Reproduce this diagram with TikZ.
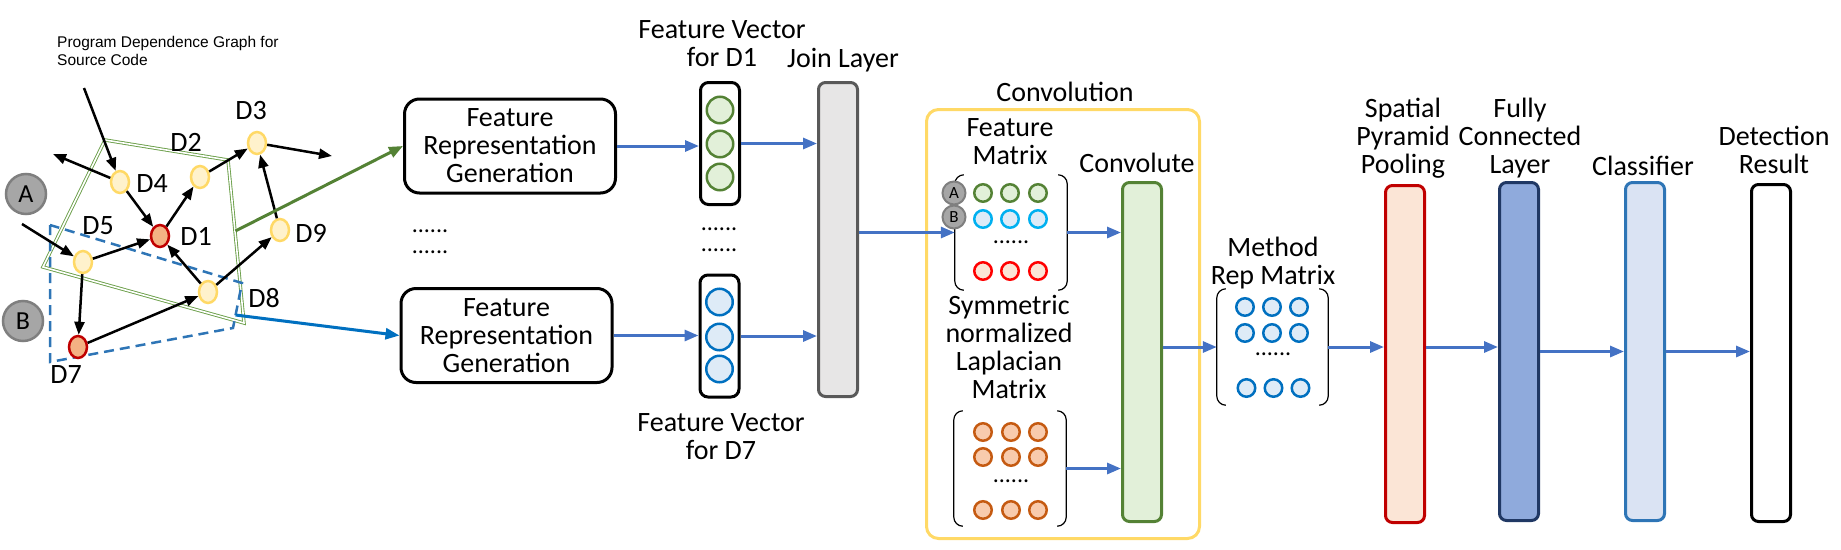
\documentclass[tikz,border=0pt]{standalone}
\usepackage{fontspec}
\setmainfont{Carlito}
\newfontfamily\pdgfont{Liberation Sans}
\usetikzlibrary{shapes.geometric,arrows.meta}
\definecolor{goldB}{HTML}{FFD966}
\definecolor{goldF}{HTML}{FFF2CC}
\definecolor{redB}{HTML}{C00000}
\definecolor{redF}{HTML}{F4B183}
\definecolor{grayF}{HTML}{A6A6A6}
\definecolor{grayB}{HTML}{7F7F7F}
\definecolor{greenB}{HTML}{548235}
\definecolor{greenF}{HTML}{E2F0D9}
\definecolor{polyG}{HTML}{6A9E48}
\definecolor{dashB}{HTML}{2E75B6}
\definecolor{lineB}{HTML}{0070C0}
\definecolor{arrB}{HTML}{4472C4}
\definecolor{blueF}{HTML}{DEEBF7}
\definecolor{cyanB}{HTML}{00B0F0}
\definecolor{brightR}{HTML}{FF0000}
\definecolor{peachF}{HTML}{FBE5D6}
\definecolor{orangeB}{HTML}{C55A11}
\definecolor{orangeF}{HTML}{F8CBAD}
\definecolor{joinF}{HTML}{E7E6E6}
\definecolor{joinB}{HTML}{595959}
\definecolor{fcF}{HTML}{8FAADC}
\definecolor{fcB}{HTML}{203864}
\definecolor{clsF}{HTML}{DAE3F3}
\begin{document}
\begin{tikzpicture}[x=1pt,y=-1pt,
  lbl/.style={inner sep=0pt, align=center, font=\fontsize{28}{28}\selectfont},
  dotrow/.style={inner sep=0pt, font=\fontsize{24}{24}\selectfont},
  gnode/.style={ellipse, minimum width=18pt, minimum height=22pt, inner sep=0pt, line width=2.5pt, draw=goldB, fill=goldF},
  rnode/.style={gnode, draw=redB, fill=redF},
  gedge/.style={line width=2.5pt, -{Triangle[length=13pt,width=10pt]}},
  flow/.style={line width=3pt, draw=arrB, -{Triangle[length=14pt,width=11pt]}},
  bigAB/.style={circle, minimum size=40pt, inner sep=0pt, line width=2.5pt, draw=grayB, fill=grayF, font=\fontsize{26}{26}\selectfont},
  smallAB/.style={circle, minimum size=23pt, inner sep=0pt, line width=2pt, draw=grayB, fill=grayF, font=\fontsize{17}{17}\selectfont},
  frg/.style={rectangle, rounded corners=15pt, line width=3pt, draw=black, minimum width=211pt, minimum height=94pt, inner sep=0pt, align=center, font=\fontsize{28}{28}\selectfont},
  vecbox/.style={rectangle, rounded corners=8pt, line width=3pt, draw=black, minimum width=39pt, minimum height=122pt},
  bar/.style={rectangle, rounded corners=7pt, line width=3pt, minimum width=39pt},
  fvc/.style={circle, minimum size=26.5pt, inner sep=0pt, line width=2.5pt},
  mc/.style={circle, minimum size=17.5pt, inner sep=0pt, line width=2.5pt},
  brk/.style={line width=1.2pt, rounded corners=9pt},
  mat/.style={rectangle, minimum width=112pt, minimum height=115pt, inner sep=0pt},
]
\useasboundingbox (0,0) rectangle (1841,549);

% ---------- program dependence graph ----------
\node[anchor=north west, inner sep=0pt, align=left, font=\pdgfont\fontsize{15.5}{17.5}\selectfont] (pdg) at (57,36.5) {Program Dependence Graph for\\Source Code};

\draw[draw=polyG, line width=0.9pt, double=white, double distance=1.6pt] (105,140) -- (228,160) -- (244,323) -- (43,267) -- cycle;
\draw[draw=dashB, line width=2.5pt, dash pattern=on 10pt off 6pt] (50,225) -- (50,362) -- (233,328) -- (242,283) -- cycle;
\coordinate (gs) at (235.4,231);
\coordinate (bs) at (235.6,315);

\coordinate (in4) at (84,88);
\coordinate (out4) at (53,154);
\coordinate (out3) at (332,156);
\coordinate (in5) at (22,224);

\node[gnode] (d4) at (120,182) {};
\node[rnode] (d1) at (160,236) {};
\node[gnode] (d2) at (200,177) {};
\node[gnode] (d3) at (257,143) {};
\node[gnode] (d9) at (280,230) {};
\node[gnode] (d5) at (83,262) {};
\node[gnode] (d8) at (208,292) {};
\node[rnode] (d7) at (78,347) {};

\node[lbl] (l2) at (186,142) {D2};
\node[lbl] (l3) at (251,111) {D3};
\node[lbl] (l4) at (152,184) {D4};
\node[lbl] (l1) at (196,236) {D1};
\node[lbl] (l5) at (98,226) {D5};
\node[lbl] (l9) at (311,233) {D9};
\node[lbl] (l8) at (264,298) {D8};
\node[lbl] (l7) at (66,375) {D7};

\draw[gedge] (in4) -- (d4);
\draw[gedge] (d4) -- (out4);
\draw[gedge] (d4) -- (d1);
\draw[gedge] (d1) -- (d2);
\draw[gedge] (d2) -- (d3);
\draw[gedge] (d3) -- (out3);
\draw[gedge] (d9) -- (d3);
\draw[gedge] (d8) -- (d9);
\draw[gedge] (d8) -- (d1);
\draw[gedge] (d5) -- (d1);
\draw[gedge] (in5) -- (d5);
\draw[gedge] (d5) -- (d7);
\draw[gedge] (d7) -- (d8);

\node[bigAB] (ca) at (26,194) {A};
\node[bigAB] (cb) at (23,321) {B};

% ---------- feature representation generation ----------
\node[frg] (frg1) at (510,146) {Feature\\Representation\\Generation};
\node[frg] (frg2) at (506.5,335.5) {Feature\\Representation\\Generation};
\node[dotrow] (dl1) at (430,231) {......};
\node[dotrow] (dl2) at (430,252) {......};

\draw[line width=3pt, draw=greenB, -{Triangle[length=14pt,width=11pt]}] (gs) -- (frg1.west);
\draw[line width=3pt, draw=lineB, -{Triangle[length=14pt,width=11pt]}] (bs) -- (frg2.west);

% ---------- feature vectors ----------
\node[lbl] (fv1lbl) at (722,44) {Feature Vector\\for D1};
\node[vecbox] (fv1) at (720,143.5) {};
\node[fvc, draw=greenB, fill=greenF] (fv1a) at (720,110) {};
\node[fvc, draw=greenB, fill=greenF] (fv1b) at (720,144) {};
\node[fvc, draw=greenB, fill=greenF] (fv1c) at (720,177) {};
\node[dotrow] (dv1) at (719,229) {......};
\node[dotrow] (dv2) at (719,250) {......};
\node[vecbox] (fv2) at (719.5,336) {};
\node[fvc, draw=lineB, fill=blueF] (fv2a) at (719.5,302) {};
\node[fvc, draw=lineB, fill=blueF] (fv2b) at (719.5,337) {};
\node[fvc, draw=lineB, fill=blueF] (fv2c) at (719.5,369) {};
\node[lbl] (fv2lbl) at (721,437) {Feature Vector\\for D7};

\node[lbl] (joinlbl) at (843,60) {Join Layer};
\node[bar, draw=joinB, fill=joinF, minimum height=314pt] (join) at (838,239.5) {};

\draw[flow] (frg1.east) -- (frg1.east -| fv1.west);
\draw[flow] (frg2.east) -- (frg2.east -| fv2.west);
\draw[flow] (fv1.east) -- (fv1.east -| join.west);
\draw[flow] (fv2.east) -- (fv2.east -| join.west);

% ---------- convolution ----------
\node[lbl] (convlbl) at (1065,92) {Convolution};
\node[rectangle, rounded corners=12pt, line width=3pt, draw=goldB, minimum width=273pt, minimum height=429pt] (cbox) at (1063,324) {};

\node[lbl] (fmlbl) at (1010,141.5) {Feature\\Matrix};
\node[mat] (fm) at (1011,232.5) {};
\draw[brk] ([xshift=9pt]fm.north west) -- (fm.north west) -- (fm.south west) -- ([xshift=9pt]fm.south west);
\draw[brk] ([xshift=-9pt]fm.north east) -- (fm.north east) -- (fm.south east) -- ([xshift=-9pt]fm.south east);
\foreach \c/\x in {1/983,2/1010,3/1038} {
  \node[mc, draw=greenB, fill=greenF] (fma\c) at (\x,193) {};
  \node[mc, draw=cyanB, fill=blueF] (fmb\c) at (\x,219) {};
  \node[mc, draw=brightR, fill=peachF] (fmz\c) at (\x,271) {};
}
\node[dotrow] (fmdots) at (1011,242) {......};
\node[smallAB] (sa) at (954,193) {A};
\node[smallAB] (sb) at (954,217) {B};

\node[lbl] (laplbl) at (1009,347) {Symmetric\\normalized\\Laplacian\\Matrix};
\node[mat] (lap) at (1010,468.5) {};
\draw[brk] ([xshift=9pt]lap.north west) -- (lap.north west) -- (lap.south west) -- ([xshift=9pt]lap.south west);
\draw[brk] ([xshift=-9pt]lap.north east) -- (lap.north east) -- (lap.south east) -- ([xshift=-9pt]lap.south east);
\foreach \c/\x in {1/983,2/1011,3/1038} {
  \node[mc, draw=orangeB, fill=orangeF] (lpa\c) at (\x,432) {};
  \node[mc, draw=orangeB, fill=orangeF] (lpb\c) at (\x,457) {};
  \node[mc, draw=orangeB, fill=orangeF] (lpz\c) at (\x,510) {};
}
\node[dotrow] (lpdots) at (1011,481) {......};

\node[lbl] (cvlbl) at (1137,163) {Convolute};
\node[bar, draw=greenB, fill=greenF, minimum height=339pt] (conv) at (1142,352) {};

\draw[flow] (join.east |- fm.west) -- (fm.west);
\draw[flow] (fm.east) -- (fm.east -| conv.west);
\draw[flow] (lap.east) -- (lap.east -| conv.west);

% ---------- method representation ----------
\node[lbl] (mrlbl) at (1273,263) {Method\\Rep Matrix};
\node[mat, minimum width=111pt, minimum height=116pt] (mr) at (1272.5,347) {};
\draw[brk] ([xshift=9pt]mr.north west) -- (mr.north west) -- (mr.south west) -- ([xshift=9pt]mr.south west);
\draw[brk] ([xshift=-9pt]mr.north east) -- (mr.north east) -- (mr.south east) -- ([xshift=-9pt]mr.south east);
\foreach \c/\x in {1/1245,2/1272,3/1299} {
  \node[mc, draw=lineB, fill=blueF] (mra\c) at (\x,307) {};
  \node[mc, draw=lineB, fill=blueF] (mrb\c) at (\x,333) {};
  \node[mc, draw=lineB, fill=blueF] (mrz\c) at (\x+1.5,388) {};
}
\node[dotrow] (mrdots) at (1273,354) {......};

\draw[flow] (conv.east |- mr.west) -- (mr.west);

% ---------- later layers ----------
\node[lbl] (spplbl) at (1403,138) {Spatial\\Pyramid\\Pooling};
\node[bar, draw=redB, fill=peachF, minimum height=337pt] (spp) at (1405,354) {};
\node[lbl] (fclbl) at (1520,138) {Fully\\Connected\\Layer};
\node[bar, draw=fcB, fill=fcF, minimum height=338pt] (fc) at (1519,351.5) {};
\node[lbl] (clslbl) at (1643,166) {Classifier};
\node[bar, draw=dashB, fill=clsF, minimum height=338pt] (cls) at (1645,351.5) {};
\node[lbl] (detlbl) at (1774,149.5) {Detection\\Result};
\node[bar, draw=black, fill=white, minimum height=337pt] (det) at (1771,353) {};

\draw[flow] (mr.east) -- (mr.east -| spp.west);
\draw[flow] (spp.east |- mr.east) -- (mr.east -| fc.west);
\draw[flow] (fc.east) -- (fc.east -| cls.west);
\draw[flow] (cls.east) -- (cls.east -| det.west);
\end{tikzpicture}
\end{document}
